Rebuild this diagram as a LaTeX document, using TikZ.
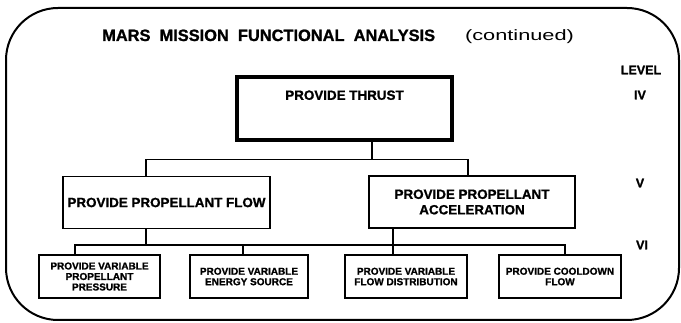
\documentclass[tikz,border=0pt]{standalone}
\usepackage{fontspec}
\setmainfont{Liberation Sans}[BoldFeatures={FakeBold=1.2}]
\newfontfamily\widefont[FakeStretch=1.45]{Liberation Sans}
\begin{document}
\begin{tikzpicture}[x=1pt,y=-1pt,
    link/.style={line width=1.5pt},
    thrust/.style={draw,line width=3.5pt,minimum width=215pt,minimum height=63pt,
      font=\fontsize{13.4}{15}\selectfont\bfseries},
    func/.style={draw,line width=1.4pt,minimum height=52pt,align=center,inner sep=1pt,
      font=\fontsize{13.4}{15.5}\selectfont\bfseries},
    sub/.style={draw,line width=1.4pt,minimum height=43pt,align=center,inner sep=1pt,
      font=\fontsize{10}{10.5}\selectfont\bfseries},
    lvl/.style={inner sep=0pt,font=\fontsize{12.5}{14}\selectfont\bfseries}
  ]
  \useasboundingbox (0,0) rectangle (681,323);
  % Frame and heading.
  \draw[line width=2pt,rounded corners=52pt] (6,8) rectangle (679,320);
  \node[anchor=base west,inner sep=0pt,font=\fontsize{16.4}{18}\selectfont\bfseries]
    (title) at (102,41) {MARS\ \ MISSION\ \ FUNCTIONAL\ \ ANALYSIS\hspace{30pt}{\mdseries\fontsize{15}{17}\selectfont\widefont(continued)}};
  \node[lvl] (level) at (641,70) {LEVEL};
  \node[lvl] (l4) at (640,95) {IV};
  \node[lvl] (l5) at (640,183) {V};
  \node[lvl] (l6) at (642,245) {VI};
  % Function boxes.
  \node[thrust] (thr) at (344.5,108.5) {\raisebox{8.7pt}[0pt][0pt]{PROVIDE THRUST}};
  \node[func,minimum width=207pt] (flow) at (166.5,202.5) {PROVIDE PROPELLANT FLOW};
  \node[func,minimum width=206pt] (accel) at (472,202) {PROVIDE PROPELLANT\\ACCELERATION};
  \node[sub,minimum width=121pt] (pres) at (99.5,276.5) {PROVIDE VARIABLE\\PROPELLANT\\PRESSURE};
  \node[sub,minimum width=118pt] (energy) at (249,276.5) {PROVIDE VARIABLE\\ENERGY SOURCE};
  \node[sub,minimum width=122pt] (dist) at (406,276.5) {PROVIDE VARIABLE\\FLOW DISTRIBUTION};
  \node[sub,minimum width=122pt] (cool) at (560,276.5) {PROVIDE COOLDOWN\\FLOW};
  % Level V links.
  \draw[link] ([xshift=27.5]thr.south) -- ++(0,18) coordinate (jt);
  \draw[link] ([xshift=-20.5]flow.north) |- (jt) -| ([xshift=-4]accel.north);
  % Level VI links.
  \coordinate (bus) at (0,245);
  \coordinate (d1) at ([xshift=-24.5]pres.north);
  \coordinate (d2) at ([xshift=-6]energy.north);
  \coordinate (d3) at ([xshift=-13]dist.north);
  \coordinate (d4) at ([xshift=5]cool.north);
  \draw[link] (d1) |- (d4 |- bus) -- (d4);
  \draw[link] (d2) -- (d2 |- bus);
  \draw[link] ([xshift=-79]accel.south) -- (d3);
  \draw[link] ([xshift=-20.5]flow.south) -- ([xshift=-20.5]flow.south |- bus);
\end{tikzpicture}
\end{document}
